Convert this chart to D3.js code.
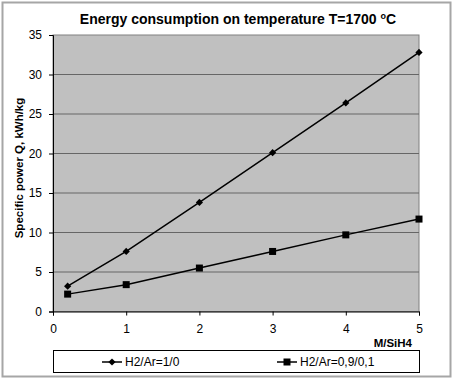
<!DOCTYPE html>
<html>
<head>
<meta charset="utf-8">
<script src="https://cdn.jsdelivr.net/npm/d3@7"></script>
<style>
  body { margin: 0; background: #fff; }
  svg { font-family: "Liberation Sans", Arial, sans-serif; }
</style>
</head>
<body>
<div id="chart"></div>
<script>
var width = 454, height = 379,
    margin = {top: 35, right: 35, bottom: 68, left: 53};

// M/SiH4 ratio on x, specific power on y
var xVals = [0.2, 1, 2, 3, 4, 5];
var seriesA = [3.2, 7.6, 13.8, 20.1, 26.4, 32.8];   // H2/Ar=1/0
var seriesB = [2.2, 3.4, 5.5, 7.6, 9.7, 11.7];      // H2/Ar=0,9/0,1
var seriesNames = ["H2/Ar=1/0", "H2/Ar=0,9/0,1"];
var xTicks = [0, 1, 2, 3, 4, 5];
var yTicks = [0, 5, 10, 15, 20, 25, 30, 35];

var svg = d3.select("#chart").append("svg")
    .attr("width", width)
    .attr("height", height);

// outer chart frame
svg.append("rect")
    .attr("x", 2.5).attr("y", 2.5)
    .attr("width", width - 6).attr("height", height - 5)
    .attr("fill", "#fff")
    .attr("stroke", "#a6a6a6")
    .attr("stroke-width", 2);

var w = 419 - margin.left, h = 311.5 - margin.top;

var x = d3.scaleLinear().domain([0, 5]).range([0, w]);
var y = d3.scaleLinear().domain([0, 35]).range([h, 0]);

var g = svg.append("g")
    .attr("transform", "translate(" + margin.left + "," + margin.top + ")");

g.append("rect")
    .attr("width", w).attr("height", h)
    .attr("fill", "#c0c0c0")
    .attr("stroke", "#808080");

g.selectAll("line.grid")
    .data(yTicks.slice(1, -1))
    .enter().append("line")
    .attr("class", "grid")
    .attr("x1", 0).attr("x2", w)
    .attr("y1", function(d) { return y(d); })
    .attr("y2", function(d) { return y(d); })
    .attr("stroke", "#666")
    .attr("stroke-width", 1);

var xAxis = g.append("g")
    .attr("transform", "translate(0," + h + ")")
    .call(d3.axisBottom(x).tickValues(xTicks).tickFormat(d3.format("d")).tickSize(4).tickPadding(9));
var yAxis = g.append("g")
    .call(d3.axisLeft(y).tickValues(yTicks).tickSize(4).tickPadding(7));

[xAxis, yAxis].forEach(function(a) {
    a.select(".domain").attr("stroke", "#000");
    a.selectAll(".tick line").attr("stroke", "#000");
    a.selectAll(".tick text")
        .attr("fill", "#000")
        .style("font-size", "12px")
        .style("font-family", "Liberation Sans, Arial, sans-serif");
});

var line = d3.line()
    .x(function(d, i) { return x(xVals[i]); })
    .y(function(d) { return y(d); });

[seriesA, seriesB].forEach(function(s) {
    g.append("path")
        .datum(s)
        .attr("d", line)
        .attr("fill", "none")
        .attr("stroke", "#000")
        .attr("stroke-width", 1.5);
});

// diamond marker: a square turned by 45 degrees
var diamond = d3.symbol().type(d3.symbolSquare).size(26);
g.selectAll("path.ptA")
    .data(seriesA)
    .enter().append("path")
    .attr("class", "ptA")
    .attr("d", diamond)
    .attr("transform", function(d, i) { return "translate(" + x(xVals[i]) + "," + y(d) + ") rotate(45)"; })
    .attr("fill", "#000");

g.selectAll("rect.ptB")
    .data(seriesB)
    .enter().append("rect")
    .attr("class", "ptB")
    .attr("x", function(d, i) { return x(xVals[i]) - 3.5; })
    .attr("y", function(d) { return y(d) - 3.5; })
    .attr("width", 7).attr("height", 7)
    .attr("fill", "#000");

// title
var title = svg.append("text")
    .attr("x", 238).attr("y", 24)
    .attr("text-anchor", "middle")
    .style("font-size", "14px")
    .style("font-weight", "bold")
    .text("Energy consumption on temperature T=1700 ");
title.append("tspan")
    .attr("dy", -5)
    .style("font-size", "9px")
    .text("o");
title.append("tspan")
    .attr("dy", 5)
    .text("C");

// axis titles
svg.append("text")
    .attr("transform", "translate(23,168) rotate(-90)")
    .attr("text-anchor", "middle")
    .style("font-size", "11.5px")
    .style("font-weight", "bold")
    .text("Specific power Q, kWh/kg");

svg.append("text")
    .attr("x", 412).attr("y", 347)
    .attr("text-anchor", "end")
    .style("font-size", "11.5px")
    .style("font-weight", "bold")
    .text("M/SiH4");

// legend
var legend = svg.append("g");
legend.append("rect")
    .attr("x", 53.5).attr("y", 350.5)
    .attr("width", 366).attr("height", 22)
    .attr("fill", "#fff")
    .attr("stroke", "#000");

var legX = [102, 277];
seriesNames.forEach(function(name, i) {
    var lg = legend.append("g").attr("transform", "translate(" + legX[i] + ",362)");
    lg.append("line")
        .attr("x1", 0).attr("x2", 20)
        .attr("stroke", "#000").attr("stroke-width", 1.5);
    if (i === 0) {
        lg.append("path").attr("d", diamond).attr("transform", "translate(10,0) rotate(45)");
    } else {
        lg.append("rect").attr("x", 6.5).attr("y", -3.5).attr("width", 7).attr("height", 7);
    }
    lg.append("text")
        .attr("x", 23).attr("y", 4)
        .style("font-size", "12px")
        .text(name);
});
</script>
</body>
</html>
